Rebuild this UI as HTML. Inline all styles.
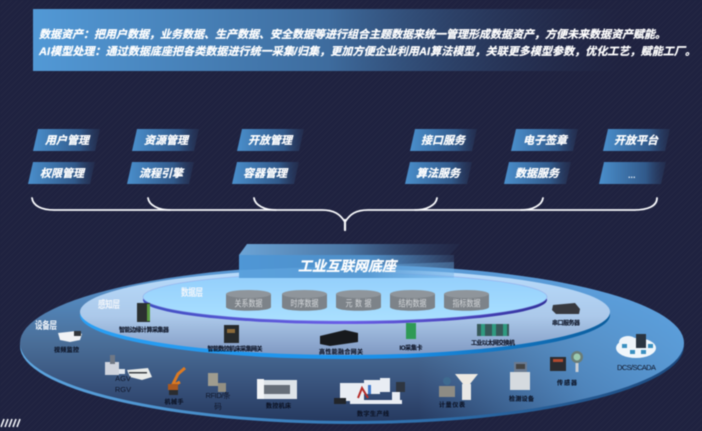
<!DOCTYPE html>
<html lang="zh"><head><meta charset="utf-8">
<style>
html,body{margin:0;padding:0;background:#20233f;width:702px;height:431px;overflow:hidden}
svg{display:block;filter:blur(.45px)}
text{font-family:"Liberation Sans","Noto Sans CJK SC",sans-serif}
.b{font-weight:700;font-style:italic;fill:#fff;stroke:#fff;stroke-width:.25px}
.d{font-size:6px;fill:#0d1426;stroke:#0d1426;stroke-width:.12px;font-weight:700;text-anchor:middle}
.e{font-size:7.5px;fill:#10172a;font-weight:400;text-anchor:middle}
.l{font-size:7.5px;fill:#f2f6fb;font-weight:700;text-anchor:middle}
.c{font-size:7px;fill:#d4d7da;font-weight:400;text-anchor:middle}
</style></head><body>
<svg width="702" height="431" viewBox="0 0 702 431" xmlns="http://www.w3.org/2000/svg">
<defs>
<pattern id="st" width="4" height="4" patternUnits="userSpaceOnUse" patternTransform="rotate(45)"><rect width="4" height="4" fill="#1f2240"/><rect width="1.200" height="4" fill="#232743"/></pattern>
<linearGradient id="ban" x1="0" x2="1" y1="0" y2="0"><stop offset="0" stop-color="#5299d6"/><stop offset=".5" stop-color="#3e6c9e"/><stop offset="1" stop-color="#2a3a60" stop-opacity="0"/></linearGradient>
<linearGradient id="pill" x1="0" x2="1" y1="0" y2="0"><stop offset="0" stop-color="#4a8fcc"/><stop offset=".7" stop-color="#31598a"/><stop offset="1" stop-color="#263558" stop-opacity=".5"/></linearGradient>
<linearGradient id="outer" x1="0" x2="0" y1="0" y2="1"><stop offset="0" stop-color="#5a9bd8"/><stop offset=".5" stop-color="#4a6e98"/><stop offset=".8" stop-color="#364f78"/><stop offset="1" stop-color="#263a60"/></linearGradient>
<linearGradient id="outerR" x1="0" x2="1" y1="0" y2="0"><stop offset=".6" stop-color="#5fa8e8" stop-opacity="0"/><stop offset=".85" stop-color="#5fa8e8" stop-opacity=".6"/><stop offset="1" stop-color="#5fa8e8" stop-opacity=".8"/></linearGradient>
<linearGradient id="rimO" x1="0" x2="1" y1="0" y2="0"><stop offset="0" stop-color="#5ea6e0"/><stop offset=".5" stop-color="#3479b8"/><stop offset="1" stop-color="#1c4a80"/></linearGradient>
<linearGradient id="mid" x1="0" x2="0" y1="0" y2="1"><stop offset="0" stop-color="#b8dcfc"/><stop offset=".55" stop-color="#acc9ea"/><stop offset="1" stop-color="#8099c2"/></linearGradient>
<linearGradient id="rimM" x1="0" x2="1" y1="0" y2="0"><stop offset="0" stop-color="#2aa0f5"/><stop offset=".6" stop-color="#1a8fe8"/><stop offset="1" stop-color="#0a5c9c"/></linearGradient>
<linearGradient id="inn" x1="0" x2="0" y1="0" y2="1"><stop offset="0" stop-color="#92cefc"/><stop offset="1" stop-color="#aae0ff"/></linearGradient>
<linearGradient id="rimI" x1="0" x2="1" y1="0" y2="0"><stop offset="0" stop-color="#3f4ec0"/><stop offset=".5" stop-color="#6a5ce8"/><stop offset="1" stop-color="#30309a"/></linearGradient>
<linearGradient id="bkF" x1="0" x2="1" y1="0" y2="0"><stop offset="0" stop-color="#4f97d6"/><stop offset=".6" stop-color="#4f8fc8"/><stop offset="1" stop-color="#5f9fd8" stop-opacity=".15"/></linearGradient>
<linearGradient id="bkT" x1="0" x2="1" y1="0" y2="0"><stop offset="0" stop-color="#6ca4d6"/><stop offset=".5" stop-color="#4a75a3"/><stop offset="1" stop-color="#2b3a5e" stop-opacity=".2"/></linearGradient>
</defs>
<rect width="702" height="431" fill="url(#st)"/>

<!-- banner -->
<rect x="33" y="9" width="590" height="62" fill="url(#ban)"/>
<text class="b" x="39" y="38" font-size="11" textLength="627" lengthAdjust="spacing">数据资产：把用户数据，业务数据、生产数据、安全数据等进行组合主题数据来统一管理形成数据资产，方便未来数据资产赋能。</text>
<text class="b" x="39" y="55" font-size="11" textLength="657" lengthAdjust="spacing">AI模型处理：通过数据底座把各类数据进行统一采集/归集，更加方便企业利用AI算法模型，关联更多模型参数，优化工艺，赋能工厂。</text>

<!-- pills -->
<g fill="url(#pill)">
<polygon points="38,129 100,129 95,151 33,151"/>
<polygon points="33,162 95,162 90,184 28,184"/>
<polygon points="137,129 199,129 194,151 132,151"/>
<polygon points="132,162 194,162 189,184 127,184"/>
<polygon points="242,129 304,129 299,151 237,151"/>
<polygon points="237,162 299,162 294,184 232,184"/>
<polygon points="415,129 477,129 472,151 410,151"/>
<polygon points="410,162 472,162 467,184 405,184"/>
<polygon points="516,129 578,129 573,151 511,151"/>
<polygon points="509,162 571,162 566,184 504,184"/>
<polygon points="608,129 670,129 665,151 603,151"/>
<polygon points="604,162 666,162 661,184 599,184"/>
</g>
<text class="b" x="45" y="144" font-size="11" textLength="44">用户管理</text>
<text class="b" x="40" y="177" font-size="11" textLength="44">权限管理</text>
<text class="b" x="144" y="144" font-size="11" textLength="44">资源管理</text>
<text class="b" x="139" y="177" font-size="11" textLength="44">流程引擎</text>
<text class="b" x="248" y="144" font-size="11" textLength="44">开放管理</text>
<text class="b" x="243" y="177" font-size="11" textLength="44">容器管理</text>
<text class="b" x="421" y="144" font-size="11" textLength="44">接口服务</text>
<text class="b" x="416" y="177" font-size="11" textLength="44">算法服务</text>
<text class="b" x="523" y="144" font-size="11" textLength="44">电子签章</text>
<text class="b" x="515" y="177" font-size="11" textLength="44">数据服务</text>
<text class="b" x="614" y="144" font-size="11" textLength="44">开放平台</text>
<text x="628" y="178" font-size="9" fill="#dfe8f2" font-weight="700">...</text>

<!-- brace -->
<g fill="none" stroke="#f7f8fb" stroke-width="1.800" stroke-linecap="round">
<path d="M32,198 C33,206 42,210 54,210 H322 C334,210 340,214 345,222 C350,214 356,210 368,210 H634 C648,210 657,206 657,198"/>
<path d="M148,198 C149,205 158,210 170,210"/>
<path d="M254,198 C255,205 264,210 276,210"/>
<path d="M437,198 C436,205 427,210 415,210"/>
<path d="M543,198 C542,205 533,210 521,210"/>
<path d="M345,220 V230" stroke-width="2.200"/>
</g>

<!-- discs -->
<ellipse cx="352" cy="346" rx="332" ry="78" fill="url(#rimO)"/>
<ellipse cx="352" cy="343" rx="332" ry="78" fill="url(#outer)"/>
<ellipse cx="352" cy="343" rx="332" ry="78" fill="url(#outerR)"/>
<ellipse cx="345" cy="315" rx="265" ry="44" fill="url(#rimM)"/>
<ellipse cx="345" cy="312" rx="265" ry="43" fill="url(#mid)"/>
<ellipse cx="345" cy="300" rx="202" ry="24" fill="url(#rimI)"/>
<ellipse cx="345" cy="297" rx="202" ry="24" fill="url(#inn)" stroke="#8c9be6" stroke-opacity=".5" stroke-width=".8"/>

<!-- block -->
<polygon points="239,255 247,244 460,244 450,255" fill="url(#bkT)"/>
<rect x="239" y="255" width="215" height="23" fill="url(#bkF)"/>
<polygon points="239,270 454,262 454,278 239,278" fill="#6fb4ec" opacity=".35"/>
<text class="b" x="298" y="271" font-size="14" textLength="98">工业互联网底座</text>

<!-- cylinders -->
<path d="M226,294 V307 C226,312 271,312 271,307 V294 Z" fill="#7d8389"/><ellipse cx="248.500" cy="294" rx="22.500" ry="4" fill="#8f959b"/>
<path d="M282,294 V307 C282,312 327,312 327,307 V294 Z" fill="#7d8389"/><ellipse cx="304.500" cy="294" rx="22.500" ry="4" fill="#8f959b"/>
<path d="M336,294 V307 C336,312 381,312 381,307 V294 Z" fill="#7d8389"/><ellipse cx="358.500" cy="294" rx="22.500" ry="4" fill="#8f959b"/>
<path d="M390,294 V307 C390,312 435,312 435,307 V294 Z" fill="#7d8389"/><ellipse cx="412.500" cy="294" rx="22.500" ry="4" fill="#8f959b"/>
<path d="M444,294 V307 C444,312 489,312 489,307 V294 Z" fill="#7d8389"/><ellipse cx="466.500" cy="294" rx="22.500" ry="4" fill="#8f959b"/>
<text class="c" transform="translate(248.500,306.500) scale(1,1.300)" textLength="28">关系数据</text>
<text class="c" transform="translate(304.500,306.500) scale(1,1.300)" textLength="28">时序数据</text>
<text class="c" transform="translate(358.500,306.500) scale(1,1.300)" textLength="26">元数据</text>
<text class="c" transform="translate(412.500,306.500) scale(1,1.300)" textLength="28">结构数据</text>
<text class="c" transform="translate(466.500,306.500) scale(1,1.300)" textLength="28">指标数据</text>

<text class="l" transform="translate(192,296) scale(1,1.350)" textLength="22">数据层</text>
<text class="l" transform="translate(109,308) scale(1,1.350)" textLength="22">感知层</text>
<text class="l" transform="translate(46,329) scale(1,1.350)" textLength="22">设备层</text>

<!-- icons: sensing layer -->
<rect x="137" y="303" width="13" height="19" fill="#2b3030"/><rect x="147" y="304" width="3" height="17" fill="#5a9a40"/>
<rect x="224" y="325" width="15" height="18" fill="#262a2c"/><rect x="227" y="329" width="8" height="4" fill="#8a6a3a"/>
<polygon points="320,336 345,330 358,333 358,342 330,346 320,344" fill="#17191d"/>
<rect x="406" y="323" width="10" height="16" fill="#2f9a55"/>
<rect x="477" y="324" width="32" height="12" fill="#38595a"/><rect x="481" y="324" width="4" height="12" fill="#2f9a80"/><rect x="492" y="324" width="4" height="12" fill="#2f9a80"/><rect x="503" y="324" width="4" height="12" fill="#2f9a80"/>
<polygon points="553,305 575,303 580,309 579,314 556,314 552,310" fill="#37393f"/>

<!-- icons: device layer -->
<polygon points="58,333 76,331 82,334 80,340 70,342 60,340" fill="#f0f2f5"/><rect x="74" y="331" width="7" height="5" fill="#33363b"/>
<rect x="105" y="362" width="14" height="13" fill="#cfd4de"/><rect x="110" y="355" width="5" height="9" fill="#707885"/><rect x="119" y="369" width="6" height="5" fill="#dfe6ee"/>
<polygon points="127,370 148,368 152,377 142,380 130,377" fill="#e8ebe9"/><rect x="129" y="372" width="18" height="1.500" fill="#3a3f44"/>
<path d="M172,386 L178,374 L185,368 M172,386 L180,382" stroke="#dc7a22" stroke-width="3" fill="none"/><rect x="168" y="384" width="10" height="6" fill="#a85820"/><rect x="169" y="390" width="9" height="5" fill="#2a2c30"/>
<rect x="208" y="373" width="10" height="13" fill="#9f9c8f"/><rect x="218" y="383" width="8" height="9" fill="#938f82"/>
<rect x="258" y="380" width="39" height="19" fill="#dde3e8"/><rect x="264" y="385" width="26" height="9" fill="#666e78"/><rect x="257" y="379" width="7" height="20" fill="#f1f3f5"/>
<g fill="#e9edf3">
<rect x="340" y="383" width="24" height="18"/><rect x="364" y="380" width="16" height="14"/><rect x="380" y="378" width="10" height="14"/><rect x="350" y="400" width="52" height="4"/><rect x="392" y="392" width="8" height="8"/>
</g>
<rect x="334" y="398" width="12" height="6" fill="#22252a"/><path d="M358,398 L362,388 L368,398" stroke="#b52c28" stroke-width="2" fill="none"/><rect x="396" y="382" width="9" height="10" fill="#2e3540"/><rect x="368" y="385" width="3" height="9" fill="#3f78c8"/>
<rect x="439" y="386" width="16" height="11" fill="#8e8c84"/><circle cx="447" cy="381" r="4" fill="#3e6a8f"/>
<polygon points="455,374 478,374 470,384 463,384" fill="#ece9e2"/><rect x="462" y="384" width="9" height="16" fill="#e8e8e6"/>
<rect x="510" y="372" width="20" height="18" fill="#d5dadf"/><rect x="514" y="362" width="13" height="10" fill="#6a7a90"/><rect x="516" y="364" width="9" height="5" fill="#444"/>
<rect x="550" y="357" width="16" height="14" fill="#2b2c31"/><rect x="553" y="359" width="10" height="3" fill="#b04a30"/>
<circle cx="577" cy="357" r="6" fill="#6a7d78"/><circle cx="577" cy="357" r="3.500" fill="#9ccbb0"/><rect x="575.500" y="363" width="3" height="9" fill="#c9cdd2"/>
<ellipse cx="636" cy="348" rx="20" ry="10" fill="#f0f6fb"/><ellipse cx="628" cy="342" rx="9" ry="6" fill="#eef4fa"/>
<rect x="636" y="334" width="10" height="14" fill="#2a3440"/><g fill="#3a8fc0"><rect x="622" y="344" width="5" height="4"/><rect x="630" y="350" width="5" height="4"/><rect x="641" y="350" width="5" height="4"/><rect x="648" y="344" width="5" height="4"/></g>

<!-- labels -->
<text class="d" x="144" y="332" textLength="50">智能边缘计算采集器</text>
<text class="d" x="235" y="351" textLength="55">智能数控机床采集网关</text>
<text class="d" x="341" y="354" textLength="44">高性能融合网关</text>
<text class="d" x="411" y="350" textLength="23">IO采集卡</text>
<text class="d" x="493" y="345" textLength="44">工业以太网交换机</text>
<text class="d" x="566" y="325" textLength="28">串口服务器</text>
<text class="d" x="66.500" y="352" textLength="25">视频监控</text>
<text class="e" x="123" y="381">AGV</text>
<text class="e" x="123" y="392">RGV</text>
<text class="d" x="174" y="404" textLength="19">机械手</text>
<text class="e" x="218" y="398" textLength="25">RFID/条</text>
<text class="e" x="218" y="409">码</text>
<text class="d" x="278.500" y="408" textLength="25">数控机床</text>
<text class="d" x="373" y="416" textLength="32">数字生产线</text>
<text class="d" x="452" y="407" textLength="26">计量仪表</text>
<text class="d" x="521.500" y="401" textLength="25">检测设备</text>
<text class="d" x="567" y="385" textLength="20">传感器</text>
<text class="e" x="636.500" y="370" textLength="39">DCS/SCADA</text>

<!-- corner stripes -->
<g stroke="#f2f4f8" stroke-width="1.600"><path d="M1,427 L4,419"/><path d="M5,427 L8,419"/><path d="M9,427 L12,419"/><path d="M13,427 L16,419"/><path d="M17,427 L20,419"/></g>
</svg>
</body></html>
